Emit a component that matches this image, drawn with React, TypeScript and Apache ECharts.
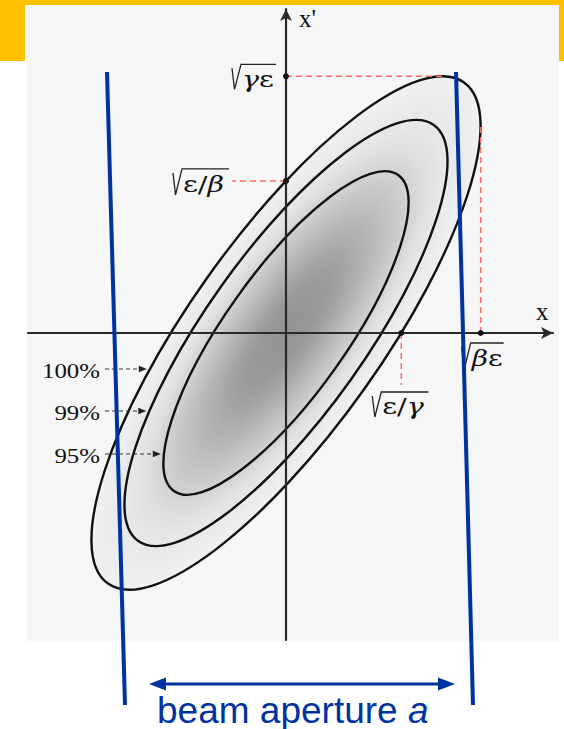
import React, { useEffect, useRef } from "react";
import * as echarts from "echarts";

// Twiss parameters of the phase-space ellipse (plot units)
const twissAlpha = -1.36;
const twissBeta = 1.28;
const twissGamma = (1 + twissAlpha * twissAlpha) / twissBeta;

// Contours holding 100%, 99% and 95% of the particles
const contourNames = ["100%", "99%", "95%"];
const contourEmittance = [74, 51, 29.4];
// x' rows at which each caption arrow meets its contour
const captionRows = [-1.8, -3.9, -6.05];

// Particle density across the beam: relative amplitude and ink coverage
const densityRadius = [0, 0.2, 0.3, 0.4, 0.5, 0.58, 0.63, 0.7, 0.8, 0.9, 1];
const densityInk = [0.44, 0.41, 0.36, 0.3, 0.24, 0.19, 0.16, 0.11, 0.07, 0.045, 0.025];

// Axis ranges
const xRange = [-12.9, 13.35];
const yRange = [-15.35, 16.2];

// Characteristic points of the 100% ellipse
const eps = contourEmittance[0];
const sqrtBetaEps = Math.sqrt(twissBeta * eps);
const sqrtGammaEps = Math.sqrt(twissGamma * eps);
const sqrtEpsBeta = Math.sqrt(eps / twissBeta);
const sqrtEpsGamma = Math.sqrt(eps / twissGamma);

const markerPoints = [
  [0, sqrtGammaEps],
  [0, sqrtEpsBeta],
  [sqrtBetaEps, 0],
  [sqrtEpsGamma, 0],
];
// Label pieces under each radical: [text, italic]
const markerTexts: [string, boolean][][] = [
  [["γ", true], ["ε", false]],
  [["ε", false], ["/", false], ["β", true]],
  [["β", true], ["ε", false]],
  [["ε", false], ["/", false], ["γ", true]],
];
// Dashed guides: to the ellipse tip (data) or a short leader to the label (px)
const guideToData: (number[] | null)[] = [
  [-twissAlpha * sqrtEpsGamma, sqrtGammaEps],
  null,
  [sqrtBetaEps, -twissAlpha * sqrtEpsBeta],
  null,
];
const guideToPx: (number[] | null)[] = [null, [-54, 0], null, [0, 52]];
// Label boxes relative to the marker: [dx, dy, width, height]
const markerBoxes = [
  [-54, -12, 44, 25],
  [-113, -12, 56, 26],
  [-19, 10, 42, 27],
  [-29, 59, 56, 25],
];

const SERIF = "Liberation Serif";
const GREEK = "DejaVu Serif";
const SANS = "Liberation Sans";
const BLUE = "#0033a0";
const RED = "#ff6b6b";
const LABEL_SIZE = 22;

function measure(text: string, font: string) {
  const ctx = document.createElement("canvas").getContext("2d");
  if (!ctx) return text.length * 12;
  ctx.font = font;
  return ctx.measureText(text).width;
}

function ellipseGeom(api: any, e: number) {
  const c = api.coord([0, 0]);
  const s = api.size([1, 1]);
  const sx = s[0];
  const sy = s[1];
  const a = twissGamma / (sx * sx);
  const b = twissAlpha / (sx * sy);
  const d = twissBeta / (sy * sy);
  const half = (a + d) / 2;
  const disc = Math.sqrt(((a - d) / 2) ** 2 + b * b);
  const l1 = half - disc;
  const l2 = half + disc;
  const phi = Math.atan2(l1 - a, b);
  return { cx: c[0], cy: c[1], rx: Math.sqrt(e / l1), ry: Math.sqrt(e / l2), phi };
}

export default function App() {
  const ref = useRef<HTMLDivElement>(null);

  useEffect(() => {
    if (!ref.current) return;
    const chart = echarts.init(ref.current, undefined, { renderer: "svg" });

    const axisCommon = {
      type: "value" as const,
      z: 5,
      axisLine: {
        onZero: true,
        symbol: ["none", "arrow"],
        symbolSize: [9, 12],
        lineStyle: { color: "#2a2a2a", width: 2.2 },
      },
      axisTick: { show: false },
      axisLabel: { show: false },
      splitLine: { show: false },
    };

    chart.setOption({
      animation: false,
      grid: { left: 28, top: 9, width: 525, height: 631 },
      xAxis: { ...axisCommon, min: xRange[0], max: xRange[1] },
      yAxis: { ...axisCommon, min: yRange[0], max: yRange[1] },
      series: [
        {
          // particle cloud
          type: "custom",
          silent: true,
          z: 2,
          data: [[0, 0, eps]],
          renderItem: (params: any, api: any) => {
            const g = ellipseGeom(api, api.value(2));
            return {
              type: "ellipse",
              x: g.cx,
              y: g.cy,
              rotation: g.phi,
              shape: { cx: 0, cy: 0, rx: g.rx, ry: g.ry },
              style: {
                fill: {
                  type: "radial",
                  x: 0.5,
                  y: 0.5,
                  r: 0.5,
                  colorStops: densityRadius.map((r, i) => ({
                    offset: r,
                    color: `rgba(20,20,20,${densityInk[i]})`,
                  })),
                },
              },
            };
          },
        },
        {
          // contour ellipses
          type: "custom",
          silent: true,
          z: 3,
          data: contourEmittance.map((e) => [0, 0, e]),
          renderItem: (params: any, api: any) => {
            const g = ellipseGeom(api, api.value(2));
            return {
              type: "ellipse",
              x: g.cx,
              y: g.cy,
              rotation: g.phi,
              shape: { cx: 0, cy: 0, rx: g.rx, ry: g.ry },
              style: { fill: "none", stroke: "#111", lineWidth: 2.4 },
            };
          },
        },
        {
          // contour captions with dashed arrows
          type: "custom",
          silent: true,
          z: 6,
          data: contourEmittance.map((e, i) => [captionRows[i], e]),
          renderItem: (params: any, api: any) => {
            const i = params.dataIndex;
            const row = api.value(0);
            const e = api.value(1);
            const A = twissGamma;
            const B = 2 * twissAlpha * row;
            const C = twissBeta * row * row - e;
            const xc = (-B - Math.sqrt(B * B - 4 * A * C)) / (2 * A);
            const tip = api.coord([xc, row]);
            const y = tip[1];
            const endX = tip[0] - 3;
            return {
              type: "group",
              children: [
                {
                  type: "line",
                  shape: { x1: 105, y1: y, x2: endX - 6, y2: y },
                  style: { stroke: "#333", lineWidth: 1.2, lineDash: [4, 3] },
                },
                {
                  type: "polygon",
                  shape: { points: [[endX, y], [endX - 8, y - 3.2], [endX - 8, y + 3.2]] },
                  style: { fill: "#222" },
                },
                {
                  type: "text",
                  x: 100,
                  y: y + 2,
                  scaleX: 1.13,
                  style: {
                    text: contourNames[i],
                    fontFamily: SERIF,
                    fontSize: 22,
                    fill: "#111",
                    align: "right",
                    verticalAlign: "middle",
                  },
                },
              ],
            };
          },
        },
        {
          // characteristic points, guides and radical labels
          type: "custom",
          silent: true,
          z: 7,
          data: markerPoints,
          renderItem: (params: any, api: any) => {
            const i = params.dataIndex;
            const p = api.coord([api.value(0), api.value(1)]);
            const toData = guideToData[i];
            const toPx = guideToPx[i];
            const q = toData ? api.coord(toData) : [p[0] + toPx![0], p[1] + toPx![1]];
            const [bx, by, bw, bh] = markerBoxes[i];
            const left = p[0] + bx;
            const top = p[1] + by;
            const pieces = markerTexts[i];
            const widths = pieces.map(([t, it]) =>
              measure(t, `${it ? "italic " : ""}${LABEL_SIZE}px "${GREEK}"`)
            );
            const total = widths.reduce((s, w) => s + w, 0);
            const scaleX = Math.min(1.3, Math.max(0.8, (bw - 11) / total));
            const children: any[] = [
              {
                type: "line",
                shape: { x1: p[0], y1: p[1], x2: q[0], y2: q[1] },
                style: { stroke: RED, lineWidth: 1.5, lineDash: [6, 4] },
              },
              {
                type: "circle",
                shape: { cx: p[0], cy: p[1], r: 3 },
                style: { fill: "#111" },
              },
              {
                type: "polyline",
                shape: {
                  points: [
                    [left, top + 4],
                    [left + 2.5, top + bh],
                    [left + 9, top],
                    [left + bw, top],
                  ],
                },
                style: { stroke: "#222", lineWidth: 1.3, fill: null },
              },
            ];
            let cx = left + 10;
            pieces.forEach(([t, it], k) => {
              children.push({
                type: "text",
                x: cx,
                y: top + bh / 2 + 2,
                scaleX,
                style: {
                  text: t,
                  fontFamily: GREEK,
                  fontSize: LABEL_SIZE,
                  fontStyle: it ? "italic" : "normal",
                  fontWeight: "normal",
                  fill: "#111",
                  verticalAlign: "middle",
                },
              });
              cx += widths[k] * scaleX;
            });
            return { type: "group", children };
          },
        },
      ],
      graphic: [
        // slide frame and diagram background
        { type: "rect", z: -10, shape: { x: 27, y: 5, width: 532, height: 636 }, style: { fill: "#f6f6f6" } },
        { type: "rect", z: 50, shape: { x: 0, y: 0, width: 564, height: 5 }, style: { fill: "#ffc000" } },
        { type: "rect", z: 50, shape: { x: 0, y: 0, width: 25, height: 61 }, style: { fill: "#ffc000" } },
        { type: "rect", z: 50, shape: { x: 559, y: 0, width: 5, height: 61 }, style: { fill: "#ffc000" } },
        // axis names
        {
          type: "text",
          z: 50,
          x: 299,
          y: 18,
          style: { text: "x'", fontFamily: SERIF, fontSize: 25, fill: "#111", verticalAlign: "middle" },
        },
        {
          type: "text",
          z: 50,
          x: 536,
          y: 311,
          style: { text: "x", fontFamily: SERIF, fontSize: 25, fill: "#111", verticalAlign: "middle" },
        },
        // beam aperture
        { type: "line", z: 60, shape: { x1: 107, y1: 72, x2: 125, y2: 705 }, style: { stroke: BLUE, lineWidth: 4 } },
        { type: "line", z: 60, shape: { x1: 456, y1: 72, x2: 473, y2: 705 }, style: { stroke: BLUE, lineWidth: 4 } },
        { type: "line", z: 60, shape: { x1: 160, y1: 684, x2: 444, y2: 684 }, style: { stroke: BLUE, lineWidth: 3 } },
        {
          type: "polygon",
          z: 60,
          shape: { points: [[149, 684], [166, 677.5], [166, 690.5]] },
          style: { fill: BLUE },
        },
        {
          type: "polygon",
          z: 60,
          shape: { points: [[455, 684], [438, 677.5], [438, 690.5]] },
          style: { fill: BLUE },
        },
        {
          type: "text",
          z: 60,
          x: 157,
          y: 710,
          style: {
            text: "{n|beam aperture }{i|a}",
            lineHeight: 30,
            rich: {
              n: { fontFamily: SANS, fontSize: 37, lineHeight: 30, fill: BLUE },
              i: { fontFamily: SANS, fontSize: 37, lineHeight: 30, fontStyle: "italic", fill: BLUE },
            },
            verticalAlign: "middle",
          },
        },
      ],
    });

    return () => chart.dispose();
  }, []);

  return (
    <div
      ref={ref}
      style={{ position: "absolute", left: 0, top: 0, width: 564, height: 729, background: "#ffffff" }}
    />
  );
}
